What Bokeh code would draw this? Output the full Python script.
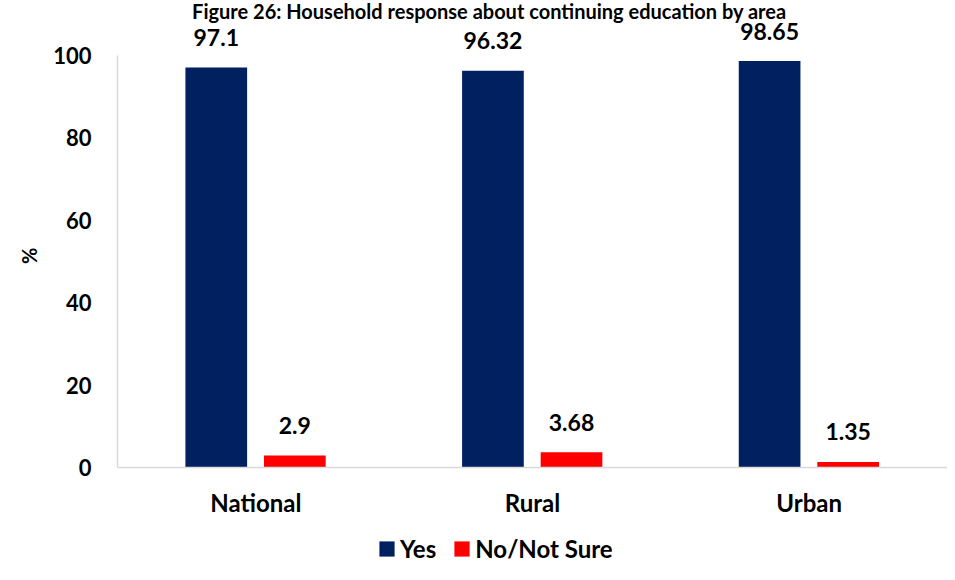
from bokeh.plotting import figure
from bokeh.models import (ColumnDataSource, FactorRange, Range1d, FixedTicker,
                          Legend, LegendItem, Label, Span)
from bokeh.transform import dodge
from bokeh.core.properties import value
from bokeh.embed import file_html
from bokeh.resources import INLINE

# ---- data ----
title = "Figure 26: Household response about continuing education by area"
areas = ["National", "Rural", "Urban"]
yes = [97.1, 96.32, 98.65]
no_not_sure = [2.9, 3.68, 1.35]
yes_labels = ["97.1", "96.32", "98.65"]
no_labels = ["2.9", "3.68", "1.35"]
y_ticks = [0, 20, 40, 60, 80, 100]
y_title = "%"
series = ["Yes", "No/Not Sure"]
colors = ["#002060", "#FF0000"]

FONT = "Lato"

src = ColumnDataSource(dict(area=areas, yes=yes, no=no_not_sure,
                            yes_lab=yes_labels, no_lab=no_labels,
                            base=[0] * len(areas)))

p = figure(width=947, height=564,
           x_range=FactorRange(factors=areas), y_range=Range1d(-23.54, 113.35),
           output_backend="svg", toolbar_location=None,
           min_border_left=117, min_border_right=0,
           min_border_top=0, min_border_bottom=0)
p.outline_line_color = None
p.xgrid.grid_line_color = None
p.ygrid.grid_line_color = None
p.background_fill_color = "white"
p.border_fill_color = "white"
p.xaxis.visible = False

# category axis line (at value 0) and category labels
p.add_layout(Span(location=0, dimension="width", line_color="#D9D9D9", line_width=1.5))
p.text(x="area", y="base", text="area", source=src, text_align="center",
       text_baseline="alphabetic", y_offset=35, text_font=value(FONT),
       text_font_style="bold", text_font_size="24px", text_color="black")

r_yes = p.vbar(x=dodge("area", -0.143, range=p.x_range), top="yes", width=0.223,
               source=src, fill_color=colors[0], line_color=None)
r_no = p.vbar(x=dodge("area", 0.141, range=p.x_range), top="no", width=0.223,
              source=src, fill_color=colors[1], line_color=None)

for xo, col, lab in [(-0.143, "yes", "yes_lab"), (0.141, "no", "no_lab")]:
    p.text(x=dodge("area", xo, range=p.x_range), y=col, text=lab, source=src,
           text_align="center", text_baseline="alphabetic", y_offset=-30,
           text_font=value(FONT), text_font_style="bold", text_font_size="23px",
           text_color="black")

# y axis
p.yaxis.ticker = FixedTicker(ticks=y_ticks)
p.yaxis.bounds = (0, 100)
p.yaxis.axis_line_color = "#D9D9D9"
p.yaxis.axis_line_width = 1.5
p.yaxis.major_tick_line_color = None
p.yaxis.minor_tick_line_color = None
p.yaxis.major_tick_out = 0
p.yaxis.major_tick_in = 0
p.yaxis.major_label_standoff = 26
p.yaxis.major_label_text_font = FONT
p.yaxis.major_label_text_font_style = "bold"
p.yaxis.major_label_text_font_size = "22px"
p.yaxis.major_label_text_color = "black"
# non-breaking spaces lift the "%" to the middle of the 0-100 axis line
p.yaxis.axis_label = "\u00a0" * 11 + y_title
p.yaxis.axis_label_standoff = 9
p.yaxis.axis_label_text_font = FONT
p.yaxis.axis_label_text_font_style = "bold"
p.yaxis.axis_label_text_font_size = "20px"
p.yaxis.axis_label_text_color = "black"

legend = Legend(items=[LegendItem(label=series[0], renderers=[r_yes]),
                       LegendItem(label=series[1], renderers=[r_no])],
                orientation="horizontal", location=(260, 1),
                glyph_width=19, glyph_height=19, label_standoff=4, spacing=16,
                padding=0, margin=0, border_line_color=None,
                background_fill_alpha=0,
                label_text_font=FONT, label_text_font_style="bold",
                label_text_font_size="24px", label_text_color="black")
p.add_layout(legend)

p.add_layout(Label(x=1.344, y=110.8, text=title, text_align="center",
                   text_baseline="alphabetic", text_font=FONT,
                   text_font_style="bold", text_font_size="20px",
                   text_color="black"))

open("out.html", "w").write(file_html(p, INLINE))
